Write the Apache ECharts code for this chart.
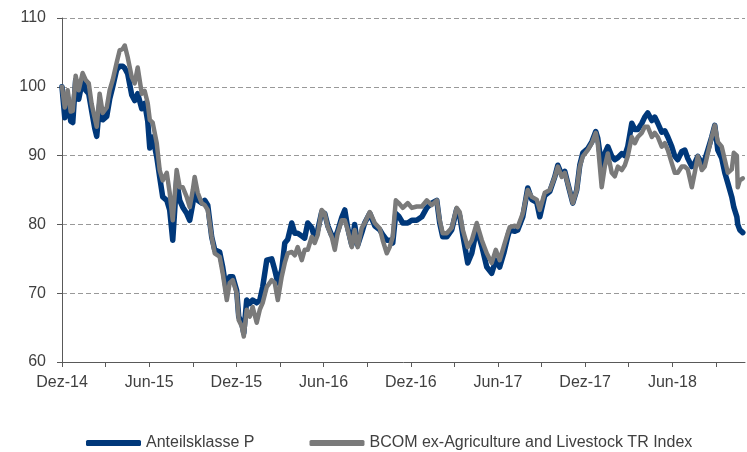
<!DOCTYPE html>
<html>
<head>
<meta charset="utf-8">
<script src="https://cdn.jsdelivr.net/npm/echarts@6/dist/echarts.min.js"></script>
<style>html,body{margin:0;padding:0;background:#fff}#c{width:747px;height:452px}</style>
</head>
<body>
<div id="c"></div>
<script>
// x positions: months since 1 Dec 2014
const monthsSinceDec14 = [
0,0.19,0.39,0.60,0.74,0.94,1.15,1.42,1.63,1.84,
2.04,2.25,2.39,2.59,2.80,3.08,3.28,3.49,3.76,3.97,
4.18,4.32,4.52,4.80,5.00,5.21,5.49,5.69,5.90,6.04,
6.24,6.52,6.72,6.93,7.21,7.41,7.62,7.89,8.10,8.31,
8.58,8.79,9.00,9.13,9.34,9.61,9.82,10.03,10.30,10.51,
10.85,11.06,11.34,11.54,11.75,12.02,12.16,12.37,12.51,12.71,
12.92,13.12,13.40,13.61,13.81,14.09,14.43,14.64,14.85,15.12,
15.33,15.53,15.81,16.02,16.22,16.50,16.70,16.91,17.19,17.39,
17.60,17.87,18.08,18.29,18.56,18.77,18.97,19.25,19.46,19.66,
19.94,20.14,20.35,20.63,20.83,21.18,21.52,21.87,22.07,22.35,
22.55,22.76,22.97,23.17,23.45,23.79,24.07,24.41,24.76,25.10,
25.44,25.79,25.99,26.20,26.48,26.82,27.16,27.37,27.58,27.92,
28.20,28.54,28.89,29.23,29.57,29.85,30.12,30.40,30.67,30.81,
31.16,31.36,31.71,32.05,32.33,32.67,32.88,33.22,33.57,33.91,
34.12,34.39,34.60,34.87,35.15,35.42,35.63,35.84,36.18,36.46,
36.73,36.87,37.14,37.35,37.56,37.83,38.04,38.25,38.52,38.73,
38.93,39.21,39.42,39.62,39.90,40.10,40.31,40.59,40.79,41.00,
41.27,41.48,41.69,41.96,42.17,42.37,42.65,42.86,43.06,43.34,
43.54,43.75,44.03,44.23,44.44,44.71,44.92,45.13,45.40,45.61,
45.82,46.09,46.23,46.44,46.50,46.64,46.85
];
const anteilsklasseP = [
100,95.5,98.0,95.0,94.8,101.0,98.2,101.0,99.5,99.0,
96.5,94.0,92.8,97.5,95.2,95.7,98.2,100.0,102.5,103.0,
103.0,102.7,101.9,98.8,98.0,99.0,96.8,97.6,95.0,91.1,
92.7,89.8,86.9,84.0,83.5,82.1,77.7,86.4,83.5,82.5,
81.6,80.6,83.0,85.5,83.5,83.1,83.5,82.8,78.2,76.3,
76.0,73.8,70.0,72.4,72.4,70.4,66.6,65.6,64.2,69.0,
68.5,69.0,68.6,69.0,70.9,74.8,75.0,73.4,71.5,73.4,
77.3,77.8,80.2,78.7,78.7,78.3,78.0,80.2,79.5,78.0,
79.2,81.8,81.6,79.8,78.4,78.0,79.0,81.0,82.1,79.5,
77.0,80.0,77.0,78.8,80.2,81.6,79.8,79.2,78.5,77.7,
77.7,77.3,81.6,81.2,80.2,80.2,80.6,80.6,81.1,82.4,
83.1,83.5,80.2,78.2,78.2,79.2,82.2,81.2,78.5,74.4,
75.8,79.4,76.8,73.8,72.9,74.8,73.8,75.8,78.2,79.2,
79.0,79.2,81.1,85.3,83.6,83.2,81.1,84.2,84.8,86.9,
88.6,87.2,87.7,85.4,83.1,85.0,88.6,90.4,91.0,92.0,
93.5,92.5,88.4,90.3,91.3,89.9,89.4,89.7,90.3,90.0,
91.3,94.7,93.8,93.8,94.7,95.6,96.2,95.1,95.6,94.7,
93.4,93.6,92.7,91.3,89.9,89.4,90.6,90.8,89.6,88.4,
88.9,89.9,88.9,89.4,90.8,92.7,94.4,90.8,89.6,87.5,
86.0,84.0,82.5,81.1,80.0,79.2,78.8
];
const bcomExAgLivestock = [
100,97.0,99.5,96.4,96.5,101.6,99.5,102.0,101.0,100.5,
97.5,95.5,94.2,99.0,96.2,97.0,99.5,101.0,103.5,105.3,
105.5,106.0,104.3,101.4,100.5,102.8,99.0,99.4,97.6,95.2,
94.8,91.8,87.9,86.4,87.5,84.6,80.6,87.9,85.4,85.4,
84.0,82.5,85.0,86.9,84.6,83.1,82.8,82.1,78.2,75.8,
75.3,72.9,69.0,71.5,71.9,70.0,66.1,65.2,63.7,67.6,
66.6,68.0,65.7,67.6,68.6,70.9,71.9,71.5,69.0,72.4,
74.4,75.8,76.0,75.5,76.7,74.8,76.3,76.3,78.2,77.3,
78.5,82.1,81.6,79.6,78.2,76.3,78.7,80.6,80.6,79.2,
76.7,79.2,76.7,79.5,80.2,81.8,80.2,79.4,77.7,75.8,
76.7,78.2,83.5,83.1,82.4,83.1,82.4,82.6,82.6,83.5,
82.8,83.5,80.6,78.7,78.7,79.5,82.4,81.8,79.2,76.7,
77.7,80.2,77.7,75.8,74.4,76.3,74.8,76.8,78.7,79.6,
79.8,79.6,81.6,85.0,84.0,83.6,82.1,84.6,85.0,86.9,
88.4,86.9,87.5,85.4,83.1,85.0,88.4,89.9,90.8,91.8,
93.3,91.8,85.4,88.4,90.3,87.5,87.0,88.4,87.9,88.6,
89.9,92.7,91.8,92.7,93.3,94.2,94.2,92.7,93.3,92.7,
91.3,91.8,90.8,88.9,87.5,87.5,88.4,88.4,88.0,85.4,
87.5,89.9,87.9,88.4,90.3,92.7,94.4,92.0,91.3,89.4,
87.5,88.0,90.4,90.0,85.4,86.4,86.7
];
const seriesNames = ['Anteilsklasse P', 'BCOM ex-Agriculture and Livestock TR Index'];
const xTickLabels = ['Dez-14','Jun-15','Dez-15','Jun-16','Dez-16','Jun-17','Dez-17','Jun-18'];
const xTickMonths = [0,3,6,9,12,15,18,21,24,27,30,33,36,39,42,45];
const xLabelMonths = [0,6,12,18,24,30,36,42];

const font = 'Liberation Sans';
const chart = echarts.init(document.getElementById('c'), null, {renderer: 'canvas'});
chart.setOption({
  animation: false,
  backgroundColor: '#fff',
  grid: {left: 62, right: 2, top: 18, bottom: 90, containLabel: false},
  xAxis: {
    type: 'value', min: 0, max: 47,
    axisLine: {show: true, onZero: false, lineStyle: {color: '#595959', width: 1}},
    axisTick: {show: true, length: 5, lineStyle: {color: '#595959'}, customValues: xTickMonths},
    axisLabel: {
      customValues: xLabelMonths, margin: 13, color: '#404040', fontFamily: font, fontSize: 16,
      formatter: v => xTickLabels[Math.round(v / 6)] || ''
    },
    splitLine: {show: false}
  },
  yAxis: {
    type: 'value', min: 60, max: 110, interval: 10,
    axisLine: {show: true, lineStyle: {color: '#595959', width: 1}},
    axisTick: {show: true, length: 5, lineStyle: {color: '#595959'}},
    axisLabel: {margin: 16, color: '#404040', fontFamily: font, fontSize: 16},
    splitLine: {show: true, lineStyle: {color: '#999', width: 1, type: [5, 3]}}
  },
  legend: {
    left: 86, top: 435, padding: 0, itemWidth: 55, itemHeight: 6, itemGap: 55, icon: 'roundRect',
    textStyle: {color: '#404040', fontFamily: font, fontSize: 16},
    data: seriesNames
  },
  series: [
    {
      name: seriesNames[0], type: 'line', showSymbol: false, symbol: 'none',
      data: monthsSinceDec14.map((m, i) => [m, anteilsklasseP[i]]),
      lineStyle: {color: '#00387A', width: 5.5, join: 'round', cap: 'round'},
      itemStyle: {color: '#00387A'}, z: 2
    },
    {
      name: seriesNames[1], type: 'line', showSymbol: false, symbol: 'none',
      data: monthsSinceDec14.map((m, i) => [m, bcomExAgLivestock[i]]),
      lineStyle: {color: '#7A7A7A', width: 4.5, join: 'round', cap: 'round'},
      itemStyle: {color: '#7A7A7A'}, z: 3
    }
  ]
});
</script>
</body>
</html>
